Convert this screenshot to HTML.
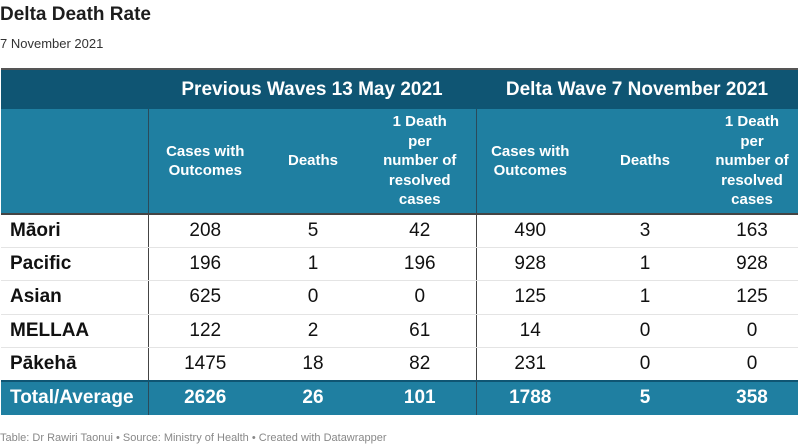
<!DOCTYPE html>
<html><head><meta charset="utf-8"><style>
*{margin:0;padding:0;box-sizing:border-box}
body{width:800px;height:446px;background:#fff;font-family:"Liberation Sans",Arial,sans-serif;position:relative;overflow:hidden}
.t{position:absolute;left:0;top:4px;font-size:19px;font-weight:bold;color:#1d1d1d}
.s{position:absolute;left:0;top:36px;font-size:13px;color:#333}
.f{position:absolute;left:0;top:432px;font-size:11px;color:#888}
table{position:absolute;left:1px;top:68px;width:797px;border-collapse:collapse;table-layout:fixed}
td{text-align:center;vertical-align:middle;padding:0}
.h1 td{background:#0f5573;color:#fff;font-weight:bold;font-size:19px;height:40px;border-top:2px solid #555}
.h2 td{background:#1f7fa1;color:#fff;font-weight:bold;font-size:15px;line-height:19.5px;height:105px;border-bottom:2px solid #444}
.r td{height:33.4px;font-size:19px;color:#111;border-bottom:1px solid #e4e4e4}
.r td:first-child,.tot td:first-child{text-align:left;padding-left:9px;font-weight:bold}
.tot td{background:#1f7fa1;color:#fff;font-weight:bold;font-size:19px;height:34px;border-top:2px solid #0f5573}
.v{border-left:1.5px solid #444}
.h2 .v,.tot .v{border-left:1.5px solid #2b4a5a}
</style></head><body>
<div class="t">Delta Death Rate</div>
<div class="s">7 November 2021</div>
<table>
<colgroup><col style="width:147px"><col style="width:114px"><col style="width:102px"><col style="width:112px"><col style="width:108px"><col style="width:122px"><col style="width:92px"></colgroup>
<tr class="h1"><td></td><td colspan="3">Previous Waves 13 May 2021</td><td colspan="3">Delta Wave 7 November 2021</td></tr>
<tr class="h2"><td></td><td class="v">Cases with<br>Outcomes</td><td>Deaths</td><td>1 Death<br>per<br>number of<br>resolved<br>cases</td><td class="v">Cases with<br>Outcomes</td><td>Deaths</td><td>1 Death<br>per<br>number of<br>resolved<br>cases</td></tr>
<tr class="r"><td>Māori</td><td class="v">208</td><td>5</td><td>42</td><td class="v">490</td><td>3</td><td>163</td></tr>
<tr class="r"><td>Pacific</td><td class="v">196</td><td>1</td><td>196</td><td class="v">928</td><td>1</td><td>928</td></tr>
<tr class="r"><td>Asian</td><td class="v">625</td><td>0</td><td>0</td><td class="v">125</td><td>1</td><td>125</td></tr>
<tr class="r"><td>MELLAA</td><td class="v">122</td><td>2</td><td>61</td><td class="v">14</td><td>0</td><td>0</td></tr>
<tr class="r"><td>Pākehā</td><td class="v">1475</td><td>18</td><td>82</td><td class="v">231</td><td>0</td><td>0</td></tr>
<tr class="tot"><td>Total/Average</td><td class="v">2626</td><td>26</td><td>101</td><td class="v">1788</td><td>5</td><td>358</td></tr>
</table>
<div class="f">Table: Dr Rawiri Taonui • Source: Ministry of Health • Created with Datawrapper</div>
</body></html>
